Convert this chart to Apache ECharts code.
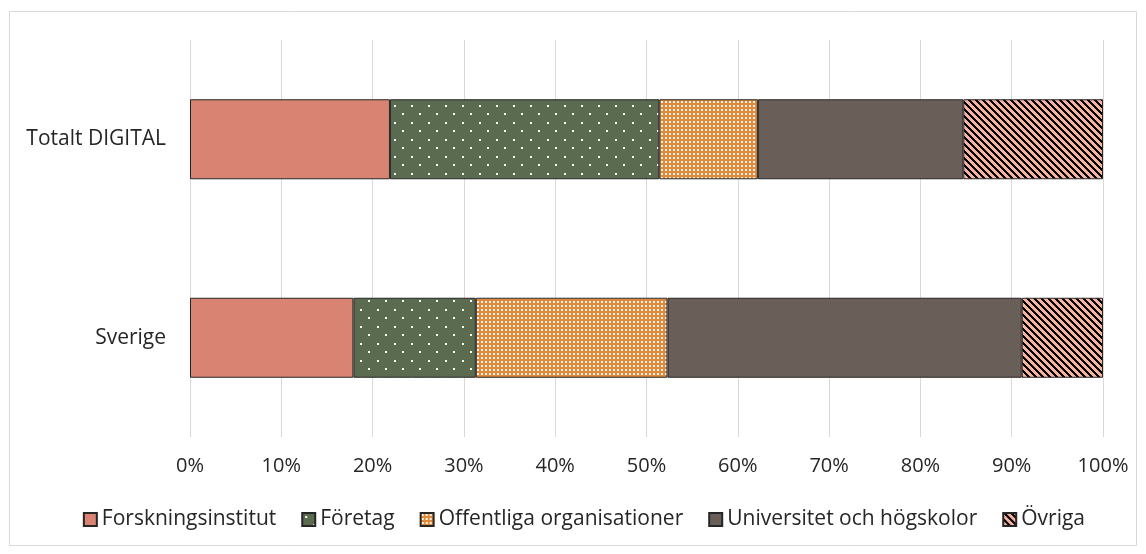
<!DOCTYPE html>
<html>
<head>
<meta charset="utf-8">
<script src="https://cdn.jsdelivr.net/npm/echarts@6/dist/echarts.min.js"></script>
<style>
html,body{margin:0;padding:0;background:#fff;}
#chart{width:1146px;height:554px;}
</style>
</head>
<body>
<div id="chart"></div>
<script>
var categories = ['Totalt DIGITAL', 'Sverige'];
var seriesNames = ['Forskningsinstitut', 'Företag', 'Offentliga organisationer', 'Universitet och högskolor', 'Övriga'];
var forskning = [21.9, 17.9];
var foretag = [29.5, 13.4];
var offentliga = [10.8, 21.0];
var universitet = [22.5, 38.8];
var ovriga = [15.3, 8.9];
var xTicks = [0, 10, 20, 30, 40, 50, 60, 70, 80, 90, 100];

function tile(w, h, draw) {
    var c = document.createElement('canvas');
    c.width = w; c.height = h;
    draw(c.getContext('2d'));
    return {image: c, repeat: 'repeat'};
}

// white dots on dark green
var dotPattern = tile(17, 17, function(ctx){
    ctx.fillStyle = '#5b6b50';
    ctx.fillRect(0, 0, 17, 17);
    ctx.fillStyle = '#ffffff';
    ctx.fillRect(3, 3, 2, 2);
    ctx.fillRect(11, 11, 2, 2);
});
// fine white grid on orange
var gridPattern = tile(4, 4, function(ctx){
    ctx.fillStyle = '#e0893a';
    ctx.fillRect(0, 0, 4, 4);
    ctx.fillStyle = 'rgba(255,255,255,0.9)';
    ctx.fillRect(1, 1, 2, 2);
});
// black diagonal stripes on salmon
var stripePattern = tile(7, 7, function(ctx){
    ctx.fillStyle = '#f7b3a0';
    ctx.fillRect(0, 0, 7, 7);
    ctx.fillStyle = '#000000';
    for (var y = 0; y < 7; y++) {
        for (var k = 0; k < 3; k++) {
            ctx.fillRect((y + k) % 7, y, 1, 1);
        }
    }
});

var fills = ['#d98373', dotPattern, gridPattern, '#6a5f58', stripePattern];
var values = [forskning, foretag, offentliga, universitet, ovriga];

var chart = echarts.init(document.getElementById('chart'));
var series = [];
for (var i = 0; i < seriesNames.length; i++) {
    series.push({
        name: seriesNames[i],
        type: 'bar',
        stack: 'total',
        barWidth: 80,
        data: values[i],
        itemStyle: {
            color: fills[i],
            borderColor: '#262626',
            borderWidth: 1
        }
    });
}

chart.setOption({
    backgroundColor: '#fff',
    animation: false,
    textStyle: {fontFamily: '"Open Sans", Lato, sans-serif'},
    graphic: [{
        type: 'rect',
        shape: {x: 9.5, y: 11.5, width: 1127, height: 534},
        style: {fill: 'none', stroke: '#d9d9d9', lineWidth: 1},
        silent: true
    }],
    legend: {
        bottom: 19,
        right: 56,
        icon: 'rect',
        itemWidth: 13,
        itemHeight: 13,
        itemGap: 25,
        textStyle: {fontSize: 21, color: '#262626'},
        data: seriesNames
    },
    grid: {
        left: 190,
        right: 43,
        top: 40,
        bottom: 117
    },
    xAxis: {
        type: 'value',
        min: xTicks[0],
        max: xTicks[xTicks.length - 1],
        interval: 10,
        axisLine: {show: false},
        axisTick: {show: false},
        axisLabel: {
            formatter: '{value}%',
            fontSize: 20,
            color: '#262626',
            margin: 19
        },
        splitLine: {lineStyle: {color: '#d9d9d9', width: 1}}
    },
    yAxis: {
        type: 'category',
        inverse: true,
        data: categories,
        axisLine: {show: false},
        axisTick: {show: false},
        axisLabel: {fontSize: 21, color: '#262626', margin: 24}
    },
    series: series
});
</script>
</body>
</html>
